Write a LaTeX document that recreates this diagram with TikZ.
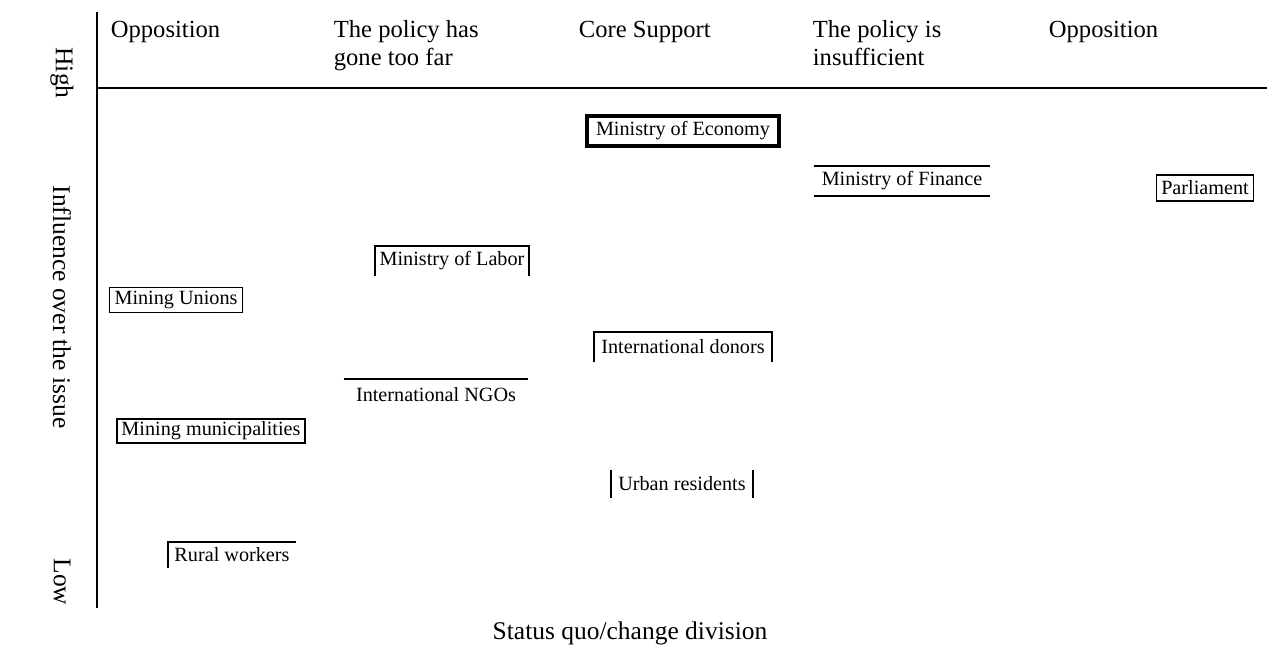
\documentclass[tikz,border=0pt]{standalone}
\usepackage{fontspec}
\setmainfont{Liberation Serif}
\usetikzlibrary{positioning}
\tikzset{
every picture/.style={
line width=1pt
}}
\tikzset{
  head/.style={anchor=north west, align=left, inner sep=0pt,
    font=\fontsize{14}{15.5}\selectfont},
  side/.style={rotate=-90, inner sep=0pt, font=\fontsize{14.5}{16}\selectfont},
  actor/.style={inner sep=0pt, font=\fontsize{11.5}{13}\selectfont},
  boxed/.style={actor, draw},
  keybox/.style={actor, draw, line width=2.2pt}
}
\begin{document}
\begin{tikzpicture}[x=0.02cm, y=-0.02cm]
  \useasboundingbox (0,0) rectangle (1267,656);

  % axes
  \coordinate (top) at (97,12);
  \coordinate (bottom) at (97,608);
  \coordinate (split) at (97,88);
  \coordinate (right) at (1267,88);
  \draw (top) -- (bottom);
  \draw (split) -- (right);

  \node [head] (h1) at (110,20) {Opposition};
  \node [head] (h2) at (333,20) {The policy has\\gone too far};
  \node [head] (h3) at (578,20) {Core Support};
  \node [head] (h4) at (812,20) {The policy is\\insufficient};
  \node [head] (h5) at (1048,20) {Opposition};

  \node [side] (high) at (62,73) {High};
  \node [side] (influence) at (62,307) {Influence over the issue};
  \node [side] (low) at (62,582) {Low};
  \node [font=\fontsize{14.5}{16}\selectfont] (division) at (630,633) {Status quo/change division};

  % stakeholders
  \node [keybox, minimum width=3.84cm, minimum height=0.6cm] (economy) at (683,131) {Ministry of Economy};
  \node [actor, minimum width=3.5cm, minimum height=0.56cm] (finance) at (902,181) {Ministry of Finance};
  \node [boxed, minimum width=1.94cm, minimum height=0.52cm] (parliament) at (1205,188) {Parliament};
  \node [actor, minimum width=3.04cm, minimum height=0.56cm] (labor) at (452,261) {Ministry of Labor};
  \node [boxed, minimum width=2.66cm, minimum height=0.5cm] (unions) at (176,300) {Mining Unions};
  \node [actor, minimum width=3.54cm, minimum height=0.58cm] (donors) at (683,347) {International donors};
  \node [actor, minimum width=3.66cm, minimum height=0.6cm] (ngos) at (436,395) {International NGOs};
  \node [boxed, minimum width=3.76cm, minimum height=0.48cm] (municip) at (211,431) {Mining municipalities};
  \node [actor, minimum width=2.8cm, minimum height=0.54cm] (urban) at (682,484) {Urban residents};
  \node [actor, minimum width=2.52cm, minimum height=0.48cm] (rural) at (232,555) {Rural workers};

  \draw (finance.north west) -- (finance.north east);
  \draw (finance.south west) -- (finance.south east);
  \draw (labor.south west) -- (labor.north west) -- (labor.north east) -- (labor.south east);
  \draw (donors.south west) -- (donors.north west) -- (donors.north east) -- (donors.south east);
  \draw (ngos.north west) -- (ngos.north east);
  \draw (urban.north west) -- (urban.south west);
  \draw (urban.north east) -- (urban.south east);
  \draw (rural.south west) -- (rural.north west) -- (rural.north east);
\end{tikzpicture}
\end{document}
